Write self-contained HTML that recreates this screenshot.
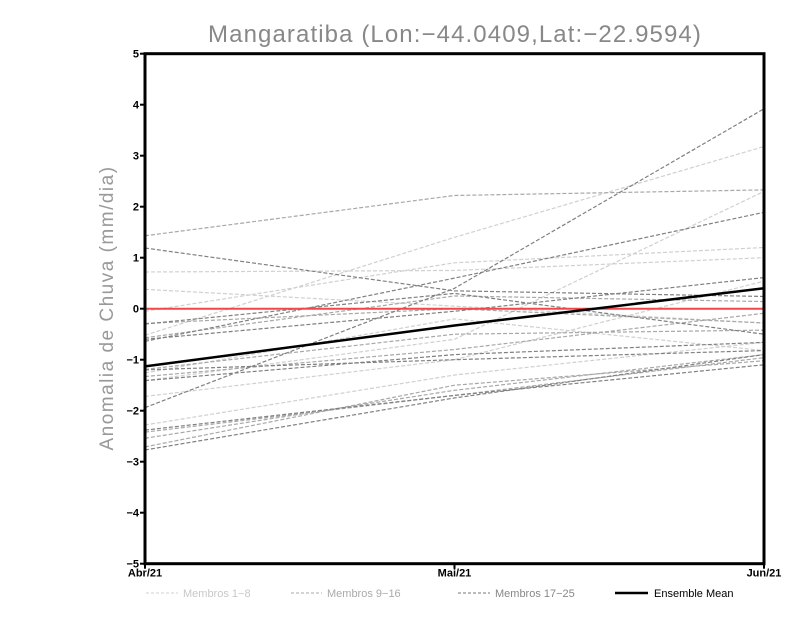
<!DOCTYPE html>
<html><head><meta charset="utf-8"><style>
body{margin:0;background:#fff;width:800px;height:618px;overflow:hidden}
svg{display:block}
</style></head><body>
<svg id="chart" width="800" height="618" xmlns="http://www.w3.org/2000/svg" font-family="Liberation Sans, sans-serif">
<text x="455" y="42" text-anchor="middle" font-size="24" fill="#888" letter-spacing="1.1">Mangaratiba (Lon:−44.0409,Lat:−22.9594)</text>
<text transform="translate(113,308) rotate(-90)" text-anchor="middle" font-size="19" fill="#999" letter-spacing="1.5">Anomalia de Chuva (mm/dia)</text>
<g id="marks"></g>
<g id="axes"></g>
<g font-size="11">
<line x1="146" y1="593" x2="178" y2="593" stroke="#d0d0d0" stroke-dasharray="3,2"/>
<text x="183" y="597" fill="#c8c8c8">Membros 1−8</text>
<line x1="291" y1="593" x2="322" y2="593" stroke="#a8a8a8" stroke-dasharray="3,2"/>
<text x="327" y="597" fill="#aaa">Membros 9−16</text>
<line x1="458" y1="593" x2="490" y2="593" stroke="#777" stroke-dasharray="3,2"/>
<text x="495" y="597" fill="#888">Membros 17−25</text>
<line x1="615" y1="593" x2="648" y2="593" stroke="#000" stroke-width="2.5"/>
<text x="654" y="597" fill="#000">Ensemble Mean</text>
</g>
</svg>
<script>
const categories = ["Abr/21","Mai/21","Jun/21"];
const yTicks = [-5,-4,-3,-2,-1,0,1,2,3,4,5];
const members1to8 = [
 [0.38,0.05,-0.28],[-0.05,0.9,1.2],[-0.52,1.4,3.18],[0.72,0.75,1.0],
 [-1.72,-1.0,0.54],[-2.28,-1.3,-0.66],[-1.41,-0.6,2.3],[-1.26,-0.2,-0.82]];
const members9to16 = [
 [1.43,2.22,2.33],[-1.33,-0.8,-0.09],[-2.42,-1.7,-0.96],[-1.19,-0.5,-0.42],
 [-2.54,-1.6,-0.9],[-0.57,0.25,0.14],[-2.71,-1.5,-1.02],[-0.29,0.0,-0.28]];
const members17to25 = [
 [-1.94,0.4,3.92],[1.19,0.35,0.24],[-0.64,0.6,1.89],[-0.6,-0.05,0.61],
 [-2.38,-1.7,-1.1],[-2.77,-1.75,-0.9],[-1.41,-0.9,-0.66],[-0.3,0.3,-0.5],[-1.2,-1.0,-0.82]];
const ensembleMean = [-1.13,-0.33,0.4];

const NS="http://www.w3.org/2000/svg";
const X0=145,X1=764,Y0=563.7,Y1=53.7;
const x=i=>X0+(X1-X0)*i/(categories.length-1);
const y=v=>Y0+(Y1-Y0)*(v+5)/10;
const marks=document.getElementById('marks'), axes=document.getElementById('axes');
function mk(tag,attrs,parent){const e=document.createElementNS(NS,tag);for(const k in attrs)e.setAttribute(k,attrs[k]);parent.appendChild(e);return e;}
function series(arr,color,name){
  arr.forEach((s,j)=>{
    const p=mk('polyline',{points:s.map((v,i)=>x(i)+','+y(v)).join(' '),fill:'none',stroke:color,'stroke-width':1.2,'stroke-dasharray':'4,2'},marks);
    
    
  });
}
series(members1to8,'#d0d0d0','member-light');
series(members9to16,'#a8a8a8','member-mid');
series(members17to25,'#808080','member-dark');
const zl=mk('line',{x1:X0,x2:X1,y1:y(0),y2:y(0),stroke:'#f04848','stroke-width':2},marks);


const em=mk('polyline',{points:ensembleMean.map((v,i)=>x(i)+','+y(v)).join(' '),fill:'none',stroke:'#000','stroke-width':2.5},marks);


const fr=mk('rect',{x:X0,y:Y1,width:X1-X0,height:Y0-Y1,fill:'none',stroke:'#000','stroke-width':3},axes);


yTicks.forEach(t=>{
  mk('line',{x1:X0-5,x2:X0,y1:y(t),y2:y(t),stroke:'#000','stroke-width':2},axes);
  const tx=mk('text',{x:X0-6,y:y(t)+4,'text-anchor':'end','font-size':11,'font-weight':'bold'},axes);
  tx.textContent=t<0?'−'+(-t):String(t);
  
  
});
categories.forEach((c,i)=>{
  mk('line',{x1:x(i),x2:x(i),y1:Y0,y2:Y0+5,stroke:'#000','stroke-width':2},axes);
  const tx=mk('text',{x:x(i),y:Y0+13,'text-anchor':'middle','font-size':11,'font-weight':'bold'},axes);
  tx.textContent=c;
  
  
});
</script>
</body></html>
